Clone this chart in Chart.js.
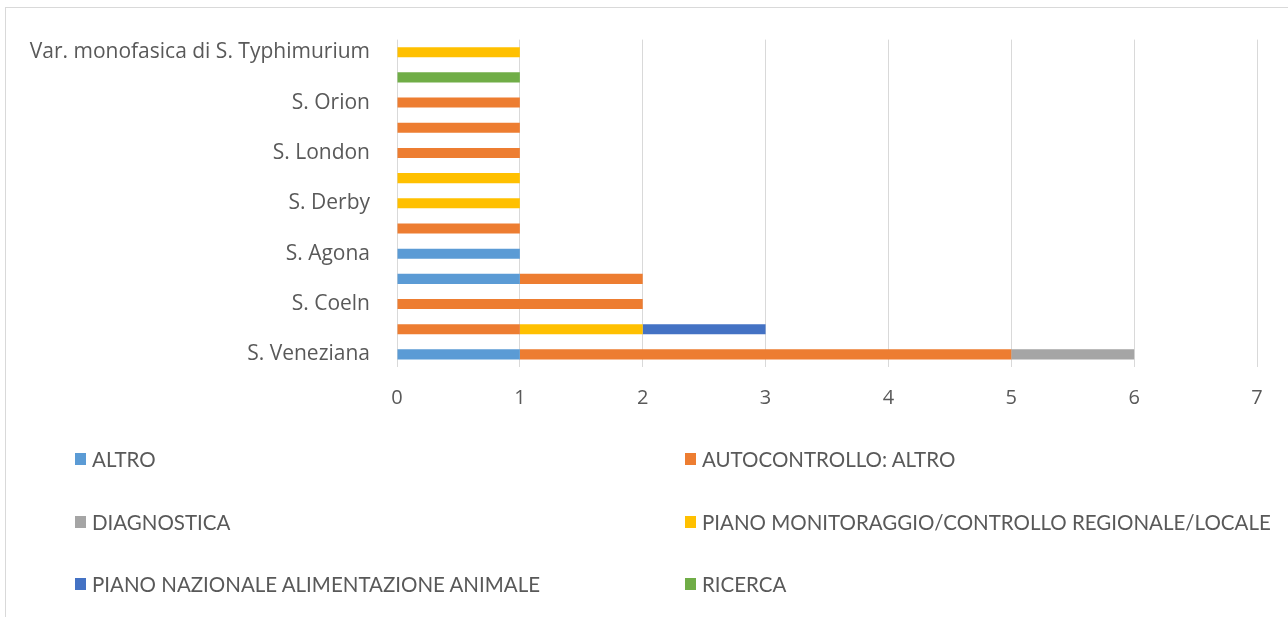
<!DOCTYPE html>
<html>
<head>
<meta charset="utf-8">
<script src="https://cdn.jsdelivr.net/npm/chart.js@4"></script>
<style>
  html, body { margin: 0; padding: 0; background: #fff; }
  body { width: 1288px; height: 617px; position: relative; overflow: hidden; font-family: Lato, sans-serif; }
  #frame { position: absolute; left: 5px; top: 7px; width: 1290px; height: 620px; border: 1px solid #d9d9d9; box-sizing: border-box; }
  #wrap { position: absolute; left: 0; top: 0; width: 1288px; height: 617px; }
  .leg { position: absolute; display: flex; align-items: center; color: #595959; font-size: 20.5px; white-space: nowrap; }
  .leg span.box { width: 11px; height: 12px; margin-right: 6px; display: inline-block; }
</style>
</head>
<body>
<div id="frame"></div>
<div id="wrap"><canvas id="serovarChart" width="1288" height="617"></canvas></div>
<div id="legend"></div>
<script>
// serovars, top to bottom (some rows carry no visible label)
const serovars = [
    'Var. monofasica di S. Typhimurium', '', 'S. Orion', '', 'S. London', '',
    'S. Derby', '', 'S. Agona', '', 'S. Coeln', '', 'S. Veneziana'
];
const altro        = [0, 0, 0, 0, 0, 0, 0, 0, 1, 1, 0, 0, 1];
const autocontrollo = [0, 0, 1, 1, 1, 0, 0, 1, 0, 1, 2, 1, 4];
const diagnostica  = [0, 0, 0, 0, 0, 0, 0, 0, 0, 0, 0, 0, 1];
const pianoRegionale = [1, 0, 0, 0, 0, 1, 1, 0, 0, 0, 0, 1, 0];
const pianoNazionale = [0, 0, 0, 0, 0, 0, 0, 0, 0, 0, 0, 1, 0];
const ricerca      = [0, 1, 0, 0, 0, 0, 0, 0, 0, 0, 0, 0, 0];
const xTicks = [0, 1, 2, 3, 4, 5, 6, 7];

const series = [
    { label: 'ALTRO', data: altro, color: '#5B9BD5' },
    { label: 'AUTOCONTROLLO: ALTRO', data: autocontrollo, color: '#ED7D31' },
    { label: 'DIAGNOSTICA', data: diagnostica, color: '#A5A5A5' },
    { label: 'PIANO MONITORAGGIO/CONTROLLO REGIONALE/LOCALE', data: pianoRegionale, color: '#FFC000' },
    { label: 'PIANO NAZIONALE ALIMENTAZIONE ANIMALE', data: pianoNazionale, color: '#4472C4' },
    { label: 'RICERCA', data: ricerca, color: '#70AD47' }
];

const ctx = document.getElementById('serovarChart').getContext('2d');
const chart = new Chart(ctx, {
    type: 'bar',
    data: {
        labels: serovars,
        datasets: series.map(s => ({
            label: s.label,
            data: s.data,
            backgroundColor: s.color,
            barPercentage: 0.4,
            categoryPercentage: 1
        }))
    },
    options: {
        indexAxis: 'y',
        responsive: false,
        animation: false,
        layout: { padding: { top: 37, right: 31, bottom: 188, left: 0 } },
        plugins: { legend: { display: false }, tooltip: { enabled: false } },
        scales: {
            x: {
                stacked: true,
                min: 0,
                max: 7,
                afterBuildTicks: axis => { axis.ticks = xTicks.map(v => ({ value: v })); },
                grid: { color: '#d9d9d9', drawTicks: false },
                border: { display: false },
                ticks: { color: '#595959', font: { family: '"Open Sans"', size: 20 }, padding: 19 }
            },
            y: {
                stacked: true,
                afterFit: axis => { axis.width = 397; },
                grid: { display: false, drawTicks: false },
                border: { display: false },
                ticks: { autoSkip: false, color: '#595959', font: { family: '"Open Sans"', size: 21 }, padding: 27 }
            }
        }
    }
});

// two-column legend below the plot
const legendPos = [
    [75, 459], [685, 459], [75, 522], [685, 522], [75, 584], [685, 584]
];
const legendEl = document.getElementById('legend');
chart.data.datasets.forEach((ds, i) => {
    const item = document.createElement('div');
    item.className = 'leg';
    item.style.left = legendPos[i][0] + 'px';
    item.style.top = (legendPos[i][1] - 13) + 'px';
    item.style.height = '26px';
    const box = document.createElement('span');
    box.className = 'box';
    box.style.background = ds.backgroundColor;
    item.appendChild(box);
    item.appendChild(document.createTextNode(ds.label));
    legendEl.appendChild(item);
});
</script>
</body>
</html>
